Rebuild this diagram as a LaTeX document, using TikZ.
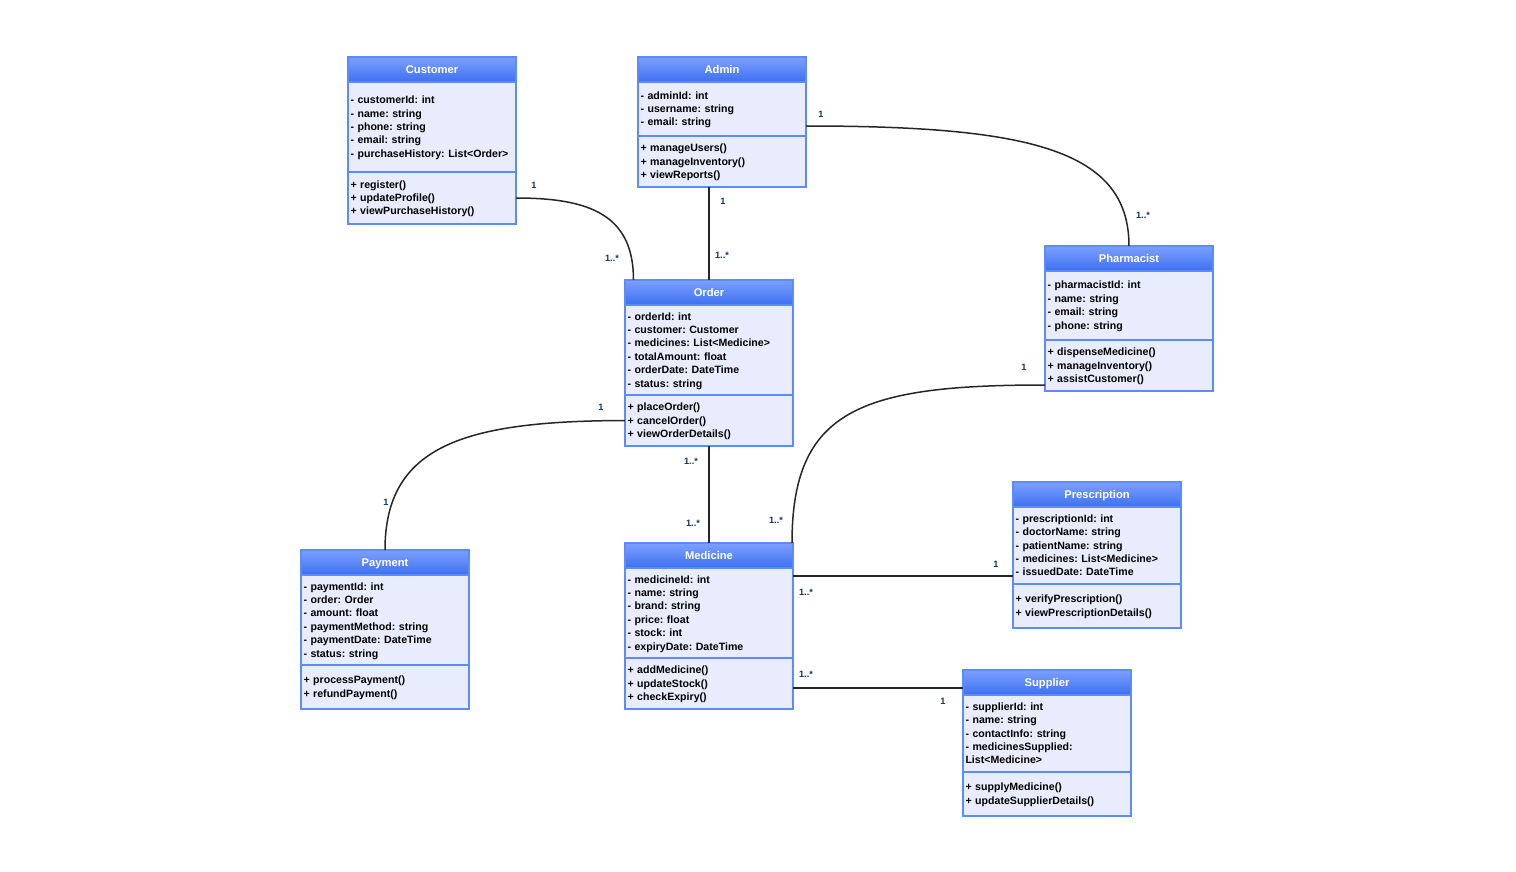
\documentclass[tikz,border=0pt]{standalone}
\usepackage{fontspec}
\setmainfont{Liberation Sans}
\usepackage{tikz}
\usetikzlibrary{positioning}
\definecolor{classline}{RGB}{92,139,250}
\definecolor{classfill}{RGB}{232,236,253}
\definecolor{headtop}{RGB}{125,160,255}
\definecolor{headbot}{RGB}{60,112,240}
\definecolor{multcol}{RGB}{20,50,100}
\tikzset{
  head/.style={draw=classline,line width=1.3pt,top color=headtop,bottom color=headbot,text=white,
    text height=8pt,text depth=0pt,minimum width=168pt,minimum height=25pt,inner sep=0pt,outer sep=0pt,
    font=\fontsize{11.2}{13.4}\selectfont\bfseries},
  part/.style={draw=classline,line width=1.3pt,fill=classfill,minimum width=168pt,text width=163pt,
    inner xsep=2.5pt,inner ysep=0pt,outer sep=0pt,align=left,font=\frenchspacing\fontsize{10.6}{13.4}\selectfont\bfseries,
    execute at begin node={\rule{0pt}{11pt}},execute at end node={\rule[-4pt]{0pt}{4pt}}},
  mult/.style={inner sep=0pt,text=multcol,font=\fontsize{9.2}{10}\selectfont\bfseries},
  link/.style={draw=black!85,line width=1.5pt}
}
\begin{document}
\begin{tikzpicture}[x=1pt,y=-1pt]
  \useasboundingbox (0,0) rectangle (1516,872);
  % Customer
  \node[head] (customer) at (432,69.5) {Customer};
  \node[part,below=0pt of customer,minimum height=90pt] (customerattr) {- customerId: int\\- name: string\\- phone: string\\- email: string\\- purchaseHistory: List<Order>};
  \node[part,below=0pt of customerattr,minimum height=52pt] (customermeth) {+ register()\\+ updateProfile()\\+ viewPurchaseHistory()};
  % Admin
  \node[head] (admin) at (722,69.5) {Admin};
  \node[part,below=0pt of admin,minimum height=54pt] (adminattr) {- adminId: int\\- username: string\\- email: string};
  \node[part,below=0pt of adminattr,minimum height=51pt] (adminmeth) {+ manageUsers()\\+ manageInventory()\\+ viewReports()};
  % Order
  \node[head] (order) at (709,292.5) {Order};
  \node[part,below=0pt of order,minimum height=90pt] (orderattr) {- orderId: int\\- customer: Customer\\- medicines: List<Medicine>\\- totalAmount: float\\- orderDate: DateTime\\- status: string};
  \node[part,below=0pt of orderattr,minimum height=51pt] (ordermeth) {+ placeOrder()\\+ cancelOrder()\\+ viewOrderDetails()};
  % Pharmacist
  \node[head] (pharmacist) at (1129,258.5) {Pharmacist};
  \node[part,below=0pt of pharmacist,minimum height=69pt] (pharmacistattr) {- pharmacistId: int\\- name: string\\- email: string\\- phone: string};
  \node[part,below=0pt of pharmacistattr,minimum height=51pt] (pharmacistmeth) {+ dispenseMedicine()\\+ manageInventory()\\+ assistCustomer()};
  % Prescription
  \node[head] (prescription) at (1097,494.5) {Prescription};
  \node[part,below=0pt of prescription,minimum height=77pt] (prescriptionattr) {- prescriptionId: int\\- doctorName: string\\- patientName: string\\- medicines: List<Medicine>\\- issuedDate: DateTime};
  \node[part,below=0pt of prescriptionattr,minimum height=44pt] (prescriptionmeth) {+ verifyPrescription()\\+ viewPrescriptionDetails()};
  % Payment
  \node[head] (payment) at (385,562.5) {Payment};
  \node[part,below=0pt of payment,minimum height=90pt] (paymentattr) {- paymentId: int\\- order: Order\\- amount: float\\- paymentMethod: string\\- paymentDate: DateTime\\- status: string};
  \node[part,below=0pt of paymentattr,minimum height=44pt] (paymentmeth) {+ processPayment()\\+ refundPayment()};
  % Medicine
  \node[head] (medicine) at (709,555.5) {Medicine};
  \node[part,below=0pt of medicine,minimum height=90pt] (medicineattr) {- medicineId: int\\- name: string\\- brand: string\\- price: float\\- stock: int\\- expiryDate: DateTime};
  \node[part,below=0pt of medicineattr,minimum height=51pt] (medicinemeth) {+ addMedicine()\\+ updateStock()\\+ checkExpiry()};
  % Supplier
  \node[head] (supplier) at (1047,682.5) {Supplier};
  \node[part,below=0pt of supplier,minimum height=77pt] (supplierattr) {- supplierId: int\\- name: string\\- contactInfo: string\\- medicinesSupplied:\\List<Medicine>};
  \node[part,below=0pt of supplierattr,minimum height=44pt] (suppliermeth) {+ supplyMedicine()\\+ updateSupplierDetails()};
  % links
  \draw[link] (customermeth.east) .. controls (590,198) and (633.5,215) .. ([xshift=-75.5pt]order.north);
  \draw[link] ([xshift=.2pt]adminmeth.south -| order.north) -- ([xshift=.2pt]order.north);
  \draw[link] ([yshift=-17pt]adminattr.east) .. controls (1030,126) and (1129,150) .. (pharmacist.north);
  \draw[link] ([yshift=-19.5pt]pharmacistmeth.west) .. controls (860,385) and (792,410) .. ([xshift=83pt]medicine.north);
  \draw[link] (ordermeth.west) .. controls (465,421) and (385,445) .. (payment.north);
  \draw[link] ([xshift=.2pt]ordermeth.south) -- ([xshift=.2pt]medicine.north);
  \draw[link] ([yshift=-8pt]medicineattr.north east) -- ([yshift=-69pt]prescriptionattr.north west);
  \draw[link] ([yshift=-30pt]medicinemeth.north east) -- ([yshift=-5.5pt]supplier.west);
  % multiplicities
  \node[mult] (m1) at (534,185) {1};
  \node[mult] (m2) at (612,258) {1..*};
  \node[mult] (m3) at (723,201) {1};
  \node[mult] (m4) at (722,255) {1..*};
  \node[mult] (m5) at (821,114) {1};
  \node[mult] (m6) at (1143,215) {1..*};
  \node[mult] (m7) at (1024,367) {1};
  \node[mult] (m8) at (776,520) {1..*};
  \node[mult] (m9) at (601,407) {1};
  \node[mult] (m10) at (386,502) {1};
  \node[mult] (m11) at (691,461) {1..*};
  \node[mult] (m12) at (693,523) {1..*};
  \node[mult] (m13) at (806,592) {1..*};
  \node[mult] (m14) at (996,564) {1};
  \node[mult] (m15) at (806,674) {1..*};
  \node[mult] (m16) at (943,701) {1};
\end{tikzpicture}
\end{document}
